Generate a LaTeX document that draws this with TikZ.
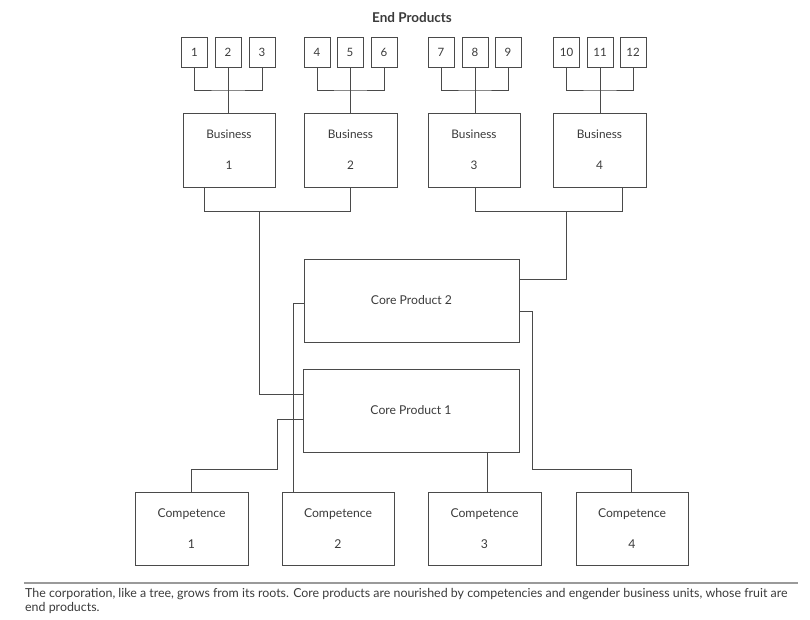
\documentclass[tikz,border=0pt]{standalone}
\usepackage{fontspec}
\setmainfont{Lato}
\definecolor{ink}{HTML}{3A3A3A}
\definecolor{edge}{HTML}{4A4A4A}
\definecolor{rulegray}{HTML}{9A9A9A}
\begin{document}
\begin{tikzpicture}[x=1pt,y=-1pt,
  every node/.style={text=ink},
  prodbox/.style={draw=edge,line width=0.8pt,minimum width=26pt,minimum height=30pt,inner sep=0pt,font=\fontsize{11.5}{13}\selectfont},
  busbox/.style={draw=edge,line width=0.8pt,minimum width=92pt,minimum height=74pt,inner sep=0pt,align=center,font=\fontsize{11.8}{32}\selectfont},
  corebox/.style={draw=edge,line width=0.8pt,minimum width=216pt,minimum height=83pt,inner sep=0pt,font=\fontsize{12.2}{14}\selectfont},
  compbox/.style={draw=edge,line width=0.8pt,minimum width=113pt,minimum height=73pt,inner sep=0pt,align=center,font=\fontsize{12.2}{31}\selectfont},
  wire/.style={draw=edge,line width=0.8pt}]
\useasboundingbox (0,0) rectangle (810,619);

\node[font=\bfseries\fontsize{13.5}{15}\selectfont] (title) at (412,18) {End Products};

% end product boxes
\node[prodbox] (p1) at (194.5,52) {1};
\node[prodbox] (p2) at (228,52) {2};
\node[prodbox] (p3) at (262,52) {3};
\node[prodbox] (p4) at (317,52) {4};
\node[prodbox] (p5) at (350,52) {5};
\node[prodbox] (p6) at (384,52) {6};
\node[prodbox] (p7) at (441,52) {7};
\node[prodbox] (p8) at (475,52) {8};
\node[prodbox] (p9) at (508,52) {9};
\node[prodbox] (p10) at (566.5,52) {10};
\node[prodbox] (p11) at (600,52) {11};
\node[prodbox] (p12) at (633,52) {12};

% business boxes
\node[busbox] (b1) at (229,150) {Business\\[-1pt]1};
\node[busbox,minimum width=93pt] (b2) at (350.5,150) {Business\\[-1pt]2};
\node[busbox] (b3) at (474,150) {Business\\[-1pt]3};
\node[busbox,minimum width=93pt] (b4) at (599.5,150) {Business\\[-1pt]4};

% core products
\node[corebox,minimum width=215pt] (c2) at (411.5,300.5) {Core Product 2};
\node[corebox] (c1) at (411,410.5) {Core Product 1};

% competences
\node[compbox] (k1) at (191.5,528.5) {Competence\\1};
\node[compbox,minimum width=112pt] (k2) at (338,528.5) {Competence\\2};
\node[compbox] (k3) at (484.5,528.5) {Competence\\3};
\node[compbox,minimum width=112pt] (k4) at (632,528.5) {Competence\\4};

% end products to business
\foreach \a/\b/\c/\bus in {p1/p2/p3/b1,p4/p5/p6/b2,p7/p8/p9/b3,p10/p11/p12/b4}{
  \coordinate (j\bus) at (\b.south |- 0,90);
  \draw[wire] (\a.south) |- (j\bus) -| (\c.south);
  \draw[wire] (\b.south) -- (\bus.north -| \b.south);
}

% business to core products
\coordinate (b1o) at (204,187);
\coordinate (b4o) at (622,187);
\coordinate (ja) at (259,211);
\coordinate (jb) at (566,211);
\draw[wire] (b1o) -- (204,211) -| (b2.south);
\draw[wire] (b3.south -| 475,0) -- (475,211) -| (b4o);
\draw[wire] (ja) |- (c1.west |- 0,394);
\draw[wire] (jb) |- (c2.east |- 0,279);

% core products to competences
\draw[wire] (c2.west |- 0,303) -| (k2.north -| 293,0);
\draw[wire] (c2.east |- 0,311) -| (532,469) -| (k4.north -| 631,0);
\draw[wire] (c1.west |- 0,419) -| (277,469) -| (k1.north);
\draw[wire] (c1.south -| 487,0) -- (k3.north -| 487,0);

% caption
\coordinate (rl) at (24,583);
\coordinate (rr) at (798,583);
\draw[draw=rulegray,line width=1.3pt] (rl) -- (rr);
\node[anchor=north west,inner sep=0pt,align=left,font=\fontsize{12.4}{14}\selectfont] (cap) at (25,588)
 {The corporation, like a tree, grows from its roots. Core products are nourished by competencies and engender business units, whose fruit are\\end products.};
\end{tikzpicture}
\end{document}
